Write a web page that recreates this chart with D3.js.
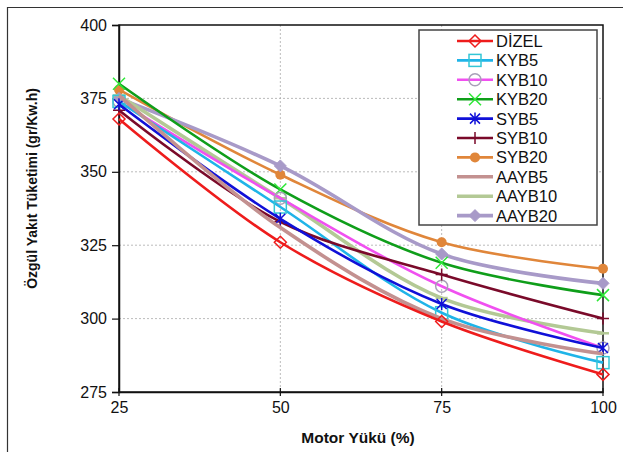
<!DOCTYPE html>
<html>
<head>
<meta charset="utf-8">
<script src="https://cdn.jsdelivr.net/npm/d3@7"></script>
<style>
	body { margin: 0; background: #fff; }
	text { font-family: "Liberation Sans", Arial, sans-serif; }
</style>
</head>
<body>
<svg id="chart" width="623" height="452"></svg>
<script>
"use strict"

// motor load (%)
var loads = [25, 50, 75, 100];
var yTicks = [275, 300, 325, 350, 375, 400];

// specific fuel consumption (gr/Kw.h), one array per fuel
var dizel  = [368, 326, 299, 281];
var kyb5   = [374, 338, 302, 285];
var kyb10  = [374, 341, 311, 290];
var kyb20  = [380, 344, 319, 308];
var syb5   = [373, 334, 305, 290];
var syb10  = [371, 333, 315, 300];
var syb20  = [378, 349, 326, 317];
var aayb5  = [376, 331, 300, 288];
var aayb10 = [376, 341, 307, 295];
var aayb20 = [375, 352, 322, 312];

var series = [
	{name: "DİZEL",  values: dizel,  color: "#ee1c1c", marker: "diamondOpen", mcolor: "#ee1c1c", w: 2.6},
	{name: "KYB5",   values: kyb5,   color: "#1fb4e8", marker: "square",      mcolor: "#33c6d6", w: 2.6},
	{name: "KYB10",  values: kyb10,  color: "#f050f0", marker: "circle",      mcolor: "#a8a0b8", w: 2.6},
	{name: "KYB20",  values: kyb20,  color: "#0f9e1a", marker: "x",           mcolor: "#2ee838", w: 2.6},
	{name: "SYB5",   values: syb5,   color: "#1010d8", marker: "star",        mcolor: "#1010d8", w: 2.6},
	{name: "SYB10",  values: syb10,  color: "#7a0a2a", marker: "plus",        mcolor: "#7a0a2a", w: 2.6},
	{name: "SYB20",  values: syb20,  color: "#e0863a", marker: "dot",         mcolor: "#e0863a", w: 2.6},
	{name: "AAYB5",  values: aayb5,  color: "#c39190", marker: "none",        mcolor: "#c39190", w: 3.6},
	{name: "AAYB10", values: aayb10, color: "#b3c995", marker: "dash",        mcolor: "#b3c995", w: 3.6},
	{name: "AAYB20", values: aayb20, color: "#a89ac8", marker: "diamond",     mcolor: "#a89ac8", w: 3.6}
];

var svg = d3.select("#chart");
var pLeft = 119, pRight = 603, pTop = 25, pBottom = 392;

var x = d3.scaleLinear().domain([25, 100]).range([pLeft, pRight]);
var y = d3.scaleLinear().domain([275, 400]).range([pBottom, pTop]);

// outer frame
svg.append("path")
	.attr("d", "M 7.5 452 V 7.5 H 623")
	.attr("fill", "none")
	.attr("stroke", "#333")
	.attr("stroke-width", 1.2);

// grid
svg.append("g").selectAll("line")
	.data([50, 75])
	.join("line")
	.attr("x1", function(d) { return x(d); })
	.attr("x2", function(d) { return x(d); })
	.attr("y1", pTop).attr("y2", pBottom)
	.attr("stroke", "#aaa").attr("stroke-width", 0.8)
	.attr("stroke-dasharray", "2,2");
svg.append("g").selectAll("line")
	.data([300, 325, 350, 375])
	.join("line")
	.attr("y1", function(d) { return y(d); })
	.attr("y2", function(d) { return y(d); })
	.attr("x1", pLeft).attr("x2", pRight)
	.attr("stroke", "#aaa").attr("stroke-width", 0.8)
	.attr("stroke-dasharray", "2,2");

// plot frame
svg.append("rect")
	.attr("x", pLeft).attr("y", pTop)
	.attr("width", pRight - pLeft).attr("height", pBottom - pTop)
	.attr("fill", "none")
	.attr("stroke", "#111")
	.attr("stroke-width", 1.5);

// axes
var yAxis = svg.append("g")
	.attr("transform", "translate(" + pLeft + ",0)")
	.call(d3.axisLeft(y).tickValues(yTicks).tickSize(7).tickPadding(5));
var xAxis = svg.append("g")
	.attr("transform", "translate(0," + pBottom + ")")
	.call(d3.axisBottom(x).tickValues(loads).tickSize(0).tickPadding(10));
[yAxis, xAxis].forEach(function(a) {
	a.select(".domain").attr("stroke", "#111").attr("stroke-width", 1.5);
	a.selectAll(".tick line").attr("stroke", "#111").attr("stroke-width", 1.2);
	a.selectAll("text")
		.attr("font-size", 16)
		.attr("fill", "#111")
		.style("font-family", "'Liberation Sans', Arial, sans-serif");
});
// small ticks across x axis
svg.append("g").selectAll("line")
	.data(loads)
	.join("line")
	.attr("x1", function(d) { return x(d); })
	.attr("x2", function(d) { return x(d); })
	.attr("y1", pBottom - 4).attr("y2", pBottom + 4)
	.attr("stroke", "#111").attr("stroke-width", 1.2);

// axis titles
svg.append("text")
	.attr("transform", "translate(37," + ((pTop + pBottom) / 2 - 20) + ") rotate(-90)")
	.attr("text-anchor", "middle")
	.attr("font-size", 14)
	.attr("font-weight", "bold")
	.attr("fill", "#111")
	.text("Özgül Yakıt Tüketimi (gr/Kw.h)");
svg.append("text")
	.attr("x", 358).attr("y", 443)
	.attr("text-anchor", "middle")
	.attr("font-size", 15.5)
	.attr("font-weight", "bold")
	.attr("fill", "#111")
	.text("Motor Yükü  (%)");

// marker drawing
function drawMarker(g, type, color, cx, cy) {
	var s = 6;
	switch (type) {
		case "diamondOpen":
			g.append("path").attr("d", "M" + cx + " " + (cy - s) + " L" + (cx + s) + " " + cy + " L" + cx + " " + (cy + s) + " L" + (cx - s) + " " + cy + " Z")
				.attr("fill", "none").attr("stroke", color).attr("stroke-width", 1.5);
			break;
		case "diamond":
			g.append("path").attr("d", "M" + cx + " " + (cy - s) + " L" + (cx + s) + " " + cy + " L" + cx + " " + (cy + s) + " L" + (cx - s) + " " + cy + " Z")
				.attr("fill", color).attr("stroke", color).attr("stroke-width", 1);
			break;
		case "square":
			g.append("rect").attr("x", cx - 6).attr("y", cy - 6).attr("width", 12).attr("height", 12)
				.attr("fill", "none").attr("stroke", color).attr("stroke-width", 1.5);
			break;
		case "circle":
			g.append("circle").attr("cx", cx).attr("cy", cy).attr("r", 6)
				.attr("fill", "none").attr("stroke", color).attr("stroke-width", 1.5);
			break;
		case "dot":
			g.append("circle").attr("cx", cx).attr("cy", cy).attr("r", 5)
				.attr("fill", color);
			break;
		case "x":
			g.append("path").attr("d", "M" + (cx - 6) + " " + (cy - 6) + " L" + (cx + 6) + " " + (cy + 6) + " M" + (cx - 6) + " " + (cy + 6) + " L" + (cx + 6) + " " + (cy - 6))
				.attr("stroke", color).attr("stroke-width", 1.5);
			break;
		case "star":
			g.append("path").attr("d", "M" + (cx - 5) + " " + (cy - 5) + " L" + (cx + 5) + " " + (cy + 5) + " M" + (cx - 5) + " " + (cy + 5) + " L" + (cx + 5) + " " + (cy - 5) + " M" + cx + " " + (cy - 6) + " V" + (cy + 6))
				.attr("stroke", color).attr("stroke-width", 1.5);
			break;
		case "plus":
			g.append("path").attr("d", "M" + cx + " " + (cy - 6) + " V" + (cy + 6) + " M" + (cx - 6) + " " + cy + " H" + (cx + 6))
				.attr("stroke", color).attr("stroke-width", 1.5);
			break;
		case "dash":
			g.append("path").attr("d", "M" + (cx - 6) + " " + cy + " H" + (cx + 6))
				.attr("stroke", color).attr("stroke-width", 2.5);
			break;
	}
}

// lines
var line = d3.line()
	.x(function(d, i) { return x(loads[i]); })
	.y(function(d) { return y(d); })
	.curve(d3.curveCatmullRom.alpha(0.5));

var order = [6, 9, 3, 8, 2, 1, 5, 4, 7, 0];
var gLines = svg.append("g");
order.forEach(function(k) {
	var s = series[k];
	var g = gLines.append("g");
	g.append("path")
		.attr("d", line(s.values))
		.attr("fill", "none")
		.attr("stroke", s.color)
		.attr("stroke-width", s.w)
		.attr("stroke-linejoin", "round");
	s.values.forEach(function(v, i) {
		drawMarker(g, s.marker, s.mcolor, x(loads[i]), y(v));
	});
});

// legend
var legX = 419, legY = 30, legW = 178, legH = 195, rowH = 19.4;
svg.append("rect")
	.attr("x", legX).attr("y", legY)
	.attr("width", legW).attr("height", legH)
	.attr("fill", "#fff")
	.attr("stroke", "#444")
	.attr("stroke-width", 1.5);
var leg = svg.append("g");
series.forEach(function(s, i) {
	var cy = legY + 11 + i * rowH;
	var g = leg.append("g");
	g.append("line")
		.attr("x1", 457).attr("x2", 493)
		.attr("y1", cy).attr("y2", cy)
		.attr("stroke", s.color)
		.attr("stroke-width", s.w);
	if (s.marker != "dash") drawMarker(g, s.marker, s.mcolor, 475, cy);
	g.append("text")
		.attr("x", 496).attr("y", cy + 6)
		.attr("font-size", 16.5)
		.attr("fill", "#111")
		.text(s.name);
});
</script>
</body>
</html>
